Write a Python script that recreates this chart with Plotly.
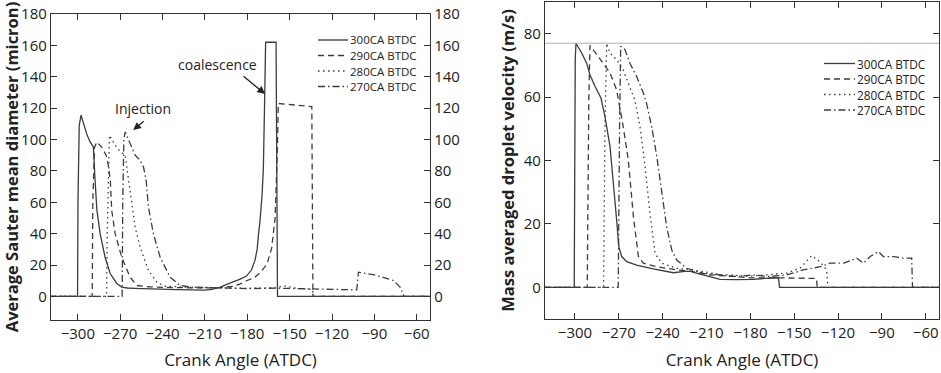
import plotly.graph_objects as go

# ---------------- data: left panel (Sauter mean diameter, micron) ----------------
x300_L = [-320, -300.2, -299.9, -299.0, -297.7, -295.8, -293.5, -291.3, -289.0, -287.8, -286.5, -284.2, -280.7, -277.1, -272.4, -268.9, -265, -260, -250, -240, -230, -220, -210, -205, -199, -195, -190, -185, -180.5, -177, -174.6, -173, -172, -171, -169.5, -168.6, -167.6, -167.0, -159.6, -158.6, -50]
y300_L = [0, 0, 60, 109, 115.5, 110, 103, 98.5, 95.3, 74, 55, 40, 25, 14.6, 8.3, 6, 5.4, 5.2, 4.8, 4.6, 4.4, 4.2, 4.0, 4.5, 6, 7.5, 9, 11, 13, 17, 22.8, 30, 40, 48, 65, 82, 130, 162, 162, 0, 0]

x290_L = [-320, -289.8, -289.4, -288.2, -286.5, -283.0, -280.0, -278.5, -277.0, -276.0, -273.6, -268.9, -263.0, -258.2, -250, -240, -220, -200, -190, -185, -180.5, -175, -171, -166, -162.7, -160.3, -158.8, -158.0, -134.3, -133.5, -50]
y290_L = [0, 0, 60, 95, 98.5, 95, 90, 84, 74, 55, 40, 25, 12.3, 7, 6.2, 5.8, 5.5, 5.5, 6.5, 8, 10, 12, 15, 20.6, 31, 50, 90, 123, 121, 0, 0]

x280_L = [-320, -279.6, -279.2, -278.4, -277.6, -273.6, -270.5, -266.5, -264.2, -261.8, -259.4, -255.9, -250.0, -244.0, -238, -220, -200, -180, -160, -154, -145, -136, -133.8, -133.2, -50]
y280_L = [0, 0, 40, 85, 102.7, 96.4, 93, 90, 74, 57, 44, 31.5, 16.6, 9, 6.5, 5.8, 5.4, 5.2, 5.5, 6.8, 5.2, 4.8, 4.5, 0, 0]

x270_L = [-320, -268.6, -268.2, -267.4, -266.5, -263.0, -259.4, -255.9, -253.5, -251.6, -250.0, -246.5, -241.7, -234.7, -227.6, -220, -200, -180, -160, -140, -120, -102.5, -101.8, -101.3, -90, -83.6, -76.6, -71.8, -69.0, -50]
y270_L = [0, 0, 60, 100, 104.8, 97.4, 90, 86.8, 82.5, 74, 57, 40, 25, 12.3, 7, 6, 5.5, 5, 5.3, 4.8, 4.5, 4.2, 10, 15.5, 13.8, 12.3, 10.2, 6, 0, 0]

# ---------------- data: right panel (mass averaged droplet velocity, m/s) ----------------
x300_R = [-321, -300.5, -299.8, -299.3, -295.4, -292.0, -289.7, -286.3, -282.2, -279.5, -276.0, -273.8, -271.5, -270.0, -268.0, -264.6, -257.8, -246.4, -232.7, -225, -221, -215, -200.7, -190, -178, -170, -160.8, -160.0, -50]
y300_R = [0, 0, 72, 77, 73.9, 70.7, 67, 63.4, 59.7, 53.9, 44.4, 33.9, 21.3, 12.8, 9.7, 8.1, 7, 5.8, 4.6, 5, 5, 4.2, 2.5, 2.4, 2.5, 2.8, 3, 0, 0]

x290_R = [-321, -291.6, -290.5, -289.7, -285.0, -280.6, -276.0, -271.5, -267.0, -263.5, -260.0, -256.6, -253.2, -244, -230.4, -220, -210, -195, -180, -165, -150, -140, -134.8, -134.2, -50]
y290_R = [0, 0, 60, 76.3, 73.4, 70.7, 67.6, 62.3, 50.7, 40.2, 22.3, 9.7, 7.6, 6.5, 5.5, 5, 4, 3.5, 3, 3, 2.8, 2.8, 2.8, 0, 0]

x280_R = [-321, -280.4, -279.5, -278.3, -276.0, -271.5, -267.0, -262.4, -259.0, -255.5, -252.0, -248.7, -245.2, -240.7, -230.4, -220, -200, -180, -165, -155, -146, -138, -132.3, -127.8, -127.0, -50]
y280_R = [0, 0, 50, 77, 73.9, 71.8, 68.6, 63.4, 59, 50.7, 38, 23.4, 10.7, 7.6, 6, 5.5, 4, 3.5, 4, 4.5, 6, 10, 8, 5.5, 0, 0]

x270_R = [-321, -270.4, -269.5, -268.7, -265.8, -262.4, -257.8, -253.2, -251.0, -247.5, -244.0, -240.7, -237.3, -233.8, -230.4, -223.6, -212, -200.7, -189.3, -178, -167, -155, -143.7, -132, -125.5, -116, -107.2, -102.7, -98, -92.4, -89, -82, -75.3, -69.6, -69.0, -50]
y270_R = [0, 0, 50, 76, 75, 70.7, 66.5, 61.3, 58, 50.7, 41.3, 29.7, 19.2, 11.8, 8.6, 6, 4.4, 3.9, 3.4, 3.9, 3.4, 3.9, 5.5, 6.5, 7.6, 7.6, 9.2, 7.6, 9.7, 11.3, 9.7, 9.7, 9.2, 9.2, 0, 0]

series_names = ["300CA BTDC", "290CA BTDC", "280CA BTDC", "270CA BTDC"]
x_ticks = [-300, -270, -240, -210, -180, -150, -120, -90, -60]
yL_ticks = [0, 20, 40, 60, 80, 100, 120, 140, 160, 180]
yR_ticks = [0, 20, 40, 60, 80]
ref_velocity = 77

# ---------------- styles ----------------
dashes = ["solid", "6px,4px", "1.5px,3.5px", "7px,3px,1.5px,3px"]
line_color = "#3c3c3c"
FONT = "Open Sans"
W, H = 941, 373

fig = go.Figure()
left_sets = [(x300_L, y300_L), (x290_L, y290_L), (x280_L, y280_L), (x270_L, y270_L)]
right_sets = [(x300_R, y300_R), (x290_R, y290_R), (x280_R, y280_R), (x270_R, y270_R)]

for (xs, ys), name, d in zip(left_sets, series_names, dashes):
    fig.add_trace(go.Scatter(x=xs, y=ys, mode="lines", name=name, xaxis="x", yaxis="y", showlegend=False,
                             line=dict(color=line_color, width=1.3, dash=d)))
# helper trace so the mirrored right-hand axis of the left panel shows its labels
fig.add_trace(go.Scatter(x=x300_L, y=y300_L, mode="lines", xaxis="x", yaxis="y3", showlegend=False,
                         opacity=0, hoverinfo="skip", line=dict(width=0.1)))
for (xs, ys), name, d in zip(right_sets, series_names, dashes):
    fig.add_trace(go.Scatter(x=xs, y=ys, mode="lines", name=name, xaxis="x2", yaxis="y2", showlegend=False,
                             line=dict(color=line_color, width=1.3, dash=d)))

axis_common = dict(showline=True, linecolor="#333333", linewidth=1.3, ticks="inside", ticklen=6,
                   tickcolor="#333333", tickwidth=1.3, showgrid=False, zeroline=False,
                   tickfont=dict(family=FONT, size=15, color="#222222"), automargin=False)

xl = dict(domain=[51 / W, 430 / W]); yl = dict(domain=[(H - 320) / H, (H - 14) / H])
xr = dict(domain=[545 / W, 939 / W]); yr = dict(domain=[(H - 319) / H, (H - 2) / H])

fig.update_layout(
    width=W, height=H, margin=dict(l=0, r=0, t=0, b=0),
    paper_bgcolor="white", plot_bgcolor="white",
    font=dict(family=FONT, color="#222222"),
    showlegend=False,
    xaxis=dict(**axis_common, **xl, anchor="y", range=[-319, -50.6], tickvals=x_ticks, mirror="ticks",
               title=dict(text="Crank Angle (ATDC)", font=dict(family=FONT, size=17), standoff=11)),
    yaxis=dict(**axis_common, **yl, anchor="x", range=[-15, 180], tickvals=yL_ticks,
               title=dict(text="<b>Average Sauter mean diameter (micron)</b>", font=dict(family=FONT, size=16.5), standoff=5)),
    yaxis3=dict(**axis_common, anchor="x", overlaying="y", side="right", range=[-15, 180], tickvals=yL_ticks),
    xaxis2=dict(**axis_common, **xr, anchor="y2", range=[-320.5, -50.9], tickvals=x_ticks, mirror="ticks",
                title=dict(text="Crank Angle (ATDC)", font=dict(family=FONT, size=17), standoff=12)),
    yaxis2=dict(**axis_common, **yr, anchor="x2", range=[-10, 90], tickvals=yR_ticks, mirror="ticks",
                title=dict(text="<b>Mass averaged droplet velocity (m/s)</b>", font=dict(family=FONT, size=16.5), standoff=4)),
)

fig.add_shape(type="line", xref="x2 domain", yref="y2", x0=0, x1=1, y0=ref_velocity, y1=ref_velocity,
              line=dict(color="#b0b0b0", width=1))

# compact legends (line sample + label), one per panel
def add_legend(x_line0, x_line1, x_text, rows_y, size):
    for name, d, py in zip(series_names, dashes, rows_y):
        fig.add_shape(type="line", xref="paper", yref="paper", x0=x_line0 / W, x1=x_line1 / W,
                      y0=1 - py / H, y1=1 - py / H, line=dict(color=line_color, width=1.3, dash=d))
        fig.add_annotation(xref="paper", yref="paper", x=x_text / W, y=1 - py / H, text=name,
                           showarrow=False, xanchor="left", yanchor="middle", borderpad=0,
                           font=dict(family=FONT, size=size, color="#222222"))

add_legend(318, 348, 349, [40, 55.5, 71, 86.5], 11.5)
add_legend(824, 855, 856, [63.5, 79, 94.5, 110], 11.8)

# annotations
fig.add_annotation(x=-201.4, y=148, xref="x", yref="y", text="coalescence", showarrow=False,
                   font=dict(family=FONT, size=14, color="#222222"))
fig.add_annotation(x=-167.4, y=129, xref="x", yref="y", text="", showarrow=True, ax=-23, ay=-19,
                   arrowhead=2, arrowsize=1.2, arrowwidth=1.3, arrowcolor="#222222")
fig.add_annotation(x=-253.8, y=120, xref="x", yref="y", text="Injection", showarrow=False,
                   font=dict(family=FONT, size=14, color="#222222"))
fig.add_annotation(x=-260.8, y=106, xref="x", yref="y", text="", showarrow=True, ax=12, ay=-10,
                   arrowhead=2, arrowsize=1.2, arrowwidth=1.3, arrowcolor="#222222")

fig.write_html("out.html", config={"displayModeBar": False},
               post_script="document.body.style.margin='0px';document.body.style.overflow='hidden';")
